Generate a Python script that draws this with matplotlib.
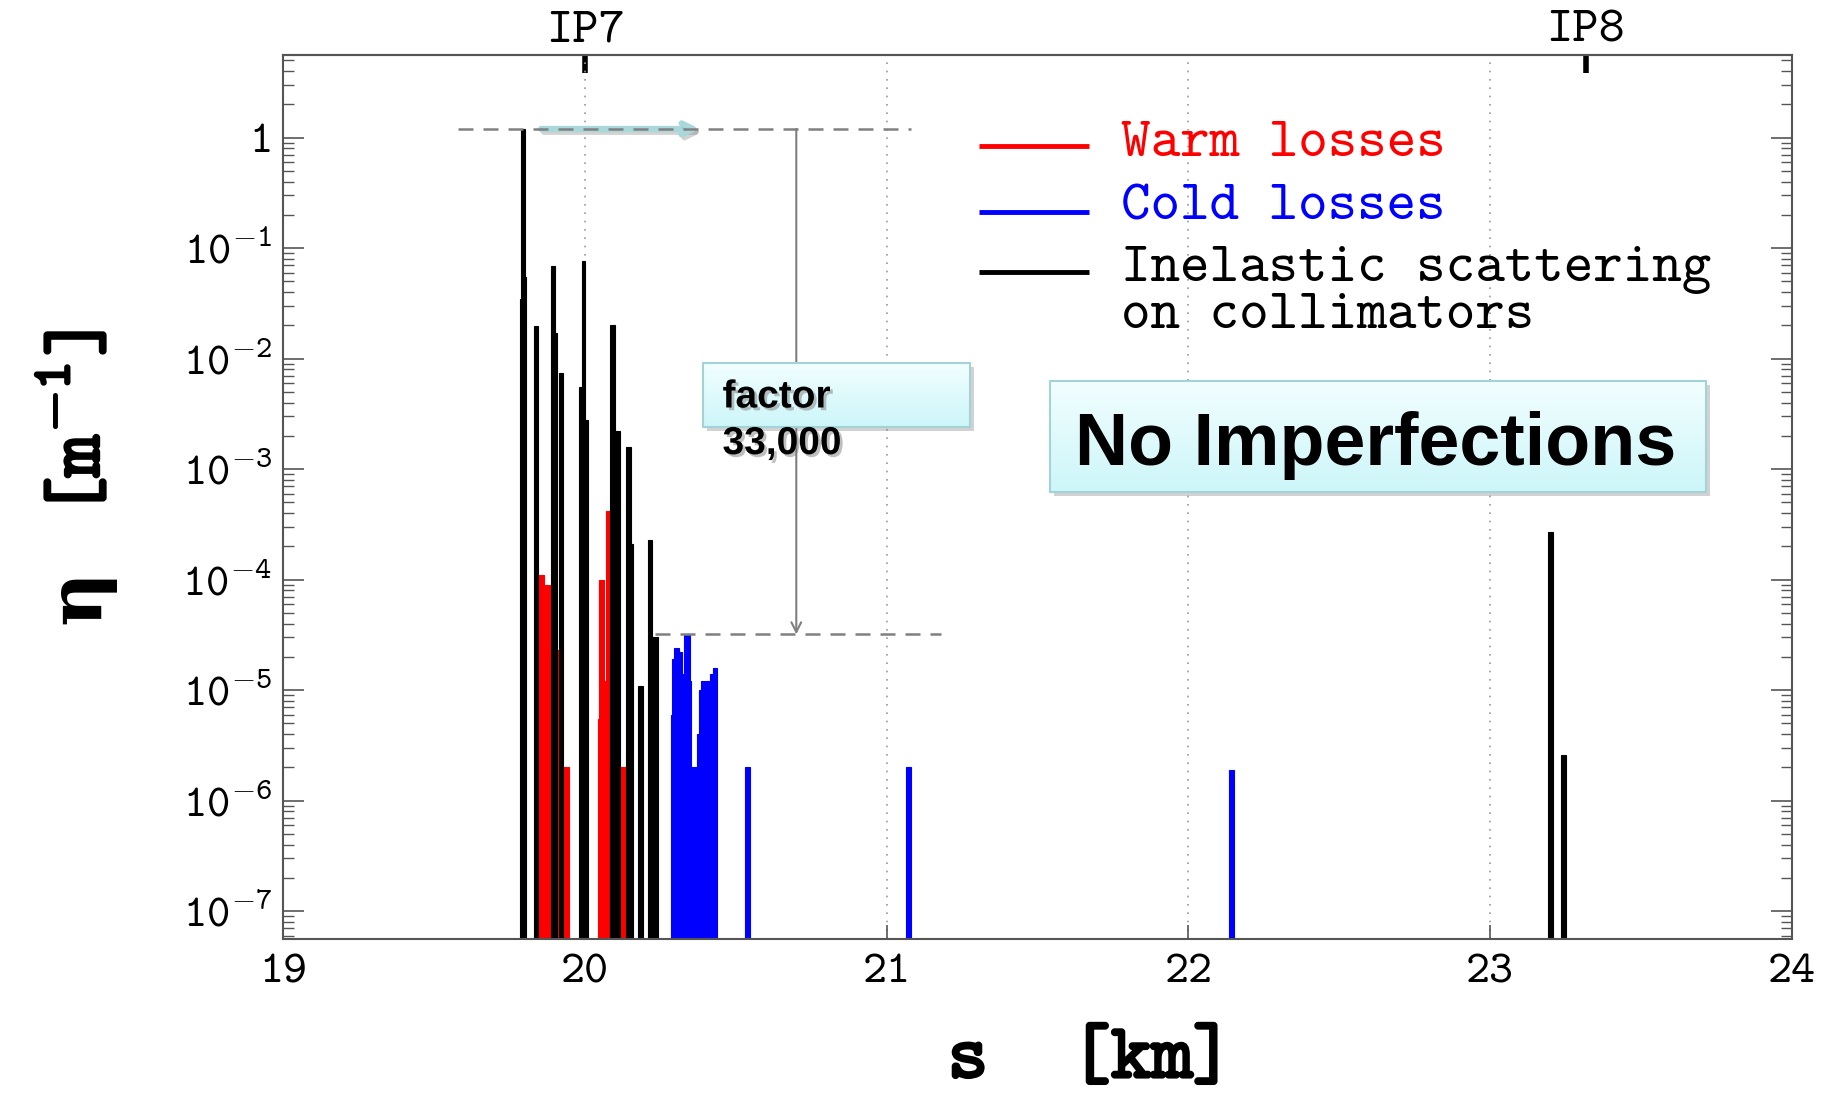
import numpy as np
import matplotlib
matplotlib.use('Agg')
import matplotlib.pyplot as plt
import matplotlib.patheffects as pe
from matplotlib.patches import Rectangle
from matplotlib.colors import LinearSegmentedColormap
from matplotlib.ticker import FixedLocator, FuncFormatter, LogLocator, NullFormatter
from matplotlib.transforms import offset_copy

MONO = 'cmtt10'
SANS = 'Liberation Sans'
plt.rcParams['font.family'] = [MONO, 'DejaVu Serif']
plt.rcParams['mathtext.fontset'] = 'custom'
plt.rcParams['mathtext.rm'] = MONO
plt.rcParams['mathtext.it'] = MONO
plt.rcParams['mathtext.bf'] = MONO

# loss map, each bin: left edge [km], right edge [km], eta [1/m]
warm_lo = [19.8475, 19.862, 19.8665, 19.904, 19.9205, 20.041, 20.047, 20.064, 20.070, 20.111]
warm_hi = [19.862, 19.8665, 19.884, 19.9205, 19.947, 20.047, 20.064, 20.070, 20.083, 20.147]
warm_eta = [1.1e-4, 3.5e-5, 9e-5, 2.3e-5, 2e-6, 5.5e-6, 1e-4, 1.2e-5, 4.2e-4, 2e-6]

cold_lo = [20.2852, 20.2896, 20.293, 20.3128, 20.3206, 20.3294, 20.346, 20.3515,
           20.3725, 20.3791, 20.3835, 20.4123, 20.4233, 20.529, 21.064, 22.136]
cold_hi = [20.2896, 20.293, 20.3128, 20.3206, 20.3294, 20.346, 20.3504, 20.3725,
           20.3791, 20.3835, 20.4123, 20.4233, 20.4388, 20.545, 21.080, 22.152]
cold_eta = [6e-6, 1.9e-5, 2.4e-5, 2.2e-5, 1.4e-5, 3.2e-5, 1.2e-5, 2e-6,
            4e-6, 1e-5, 1.2e-5, 1.4e-5, 1.6e-5, 2e-6, 2e-6, 1.9e-6]

coll_lo = [19.785, 19.789, 19.799, 19.829, 19.886, 19.9017, 19.913, 19.981, 19.988, 19.999,
           20.081, 20.084, 20.098, 20.137, 20.153, 20.176, 20.208, 20.223, 23.1925, 23.2355]
coll_hi = [19.789, 19.799, 19.804, 19.843, 19.9017, 19.906, 19.928, 19.988, 19.999, 20.008,
           20.084, 20.098, 20.116, 20.152, 20.160, 20.191, 20.223, 20.243, 23.2075, 23.2505]
coll_eta = [0.035, 1.2, 0.055, 0.0196, 0.069, 0.017, 0.0075, 0.0055, 0.076, 0.0028,
            2.8e-5, 0.02, 0.0022, 0.0016, 2.1e-4, 1.1e-5, 2.3e-4, 3.0e-5, 2.7e-4, 2.6e-6]

ip_s = [20.0, 23.317]
ip_names = ['IP7', 'IP8']
s_ticks = [19, 20, 21, 22, 23, 24]
eta_decades = [-7, -6, -5, -4, -3, -2, -1, 0]

S_MIN, S_MAX = 19, 24
ETA_MIN, ETA_MAX = 5.6e-8, 5.6
BASE = 1e-9

fig = plt.figure(figsize=(18.36, 11.03), dpi=100)
ax = fig.add_axes([0.1544, 0.1487, 0.8215, 0.8014])
ax.set_yscale('log')


def draw_bins(lo, hi, eta, color):
    lo = np.asarray(lo)
    hi = np.asarray(hi)
    ax.bar(lo, np.asarray(eta) - BASE, width=hi - lo, bottom=BASE, align='edge',
           color=color, edgecolor=color, linewidth=0.8, zorder=2)


draw_bins(warm_lo, warm_hi, warm_eta, 'red')
draw_bins(coll_lo, coll_hi, coll_eta, 'black')
draw_bins(cold_lo, cold_hi, cold_eta, 'blue')

# hierarchy annotation
top = max(coll_eta)
cold_peak = max(cold_eta)
ax.hlines(top, 19.58, 21.08, colors='#808080', linestyles=(0, (6, 4)), lw=1.8, zorder=3)
ax.hlines(cold_peak, 20.23, 21.18, colors='#808080', linestyles=(0, (6, 4)), lw=1.8, zorder=3)
ax.annotate('', xy=(20.70, cold_peak), xytext=(20.70, top),
            arrowprops=dict(arrowstyle='->,head_length=0.7,head_width=0.35', color='#7f7f7f',
                            lw=1.5, shrinkA=0, shrinkB=0), zorder=3)
arr = ax.annotate('', xy=(20.38, top), xytext=(19.854, top),
                  arrowprops=dict(arrowstyle='->,head_length=0.8,head_width=0.4', color='#a8d8da',
                                  lw=4.5, shrinkA=0, shrinkB=0), zorder=2.5)
arr.arrow_patch.set_path_effects([pe.SimpleLineShadow(offset=(2, -2), shadow_color='gray', alpha=0.35),
                                  pe.Normal()])

box_cmap = LinearSegmentedColormap.from_list('box', ['#f2feff', '#cdf6f9'])


def shaded_box(x0, y0, x1, y1):
    sh = offset_copy(ax.transAxes, fig=fig, x=4, y=-4, units='dots')
    ax.add_patch(Rectangle((x0, y0), x1 - x0, y1 - y0, transform=sh, facecolor='gray',
                           alpha=0.35, edgecolor='none', zorder=4))
    ax.imshow(np.linspace(0, 1, 64).reshape(-1, 1), extent=(x0, x1, y0, y1), transform=ax.transAxes,
              cmap=box_cmap, aspect='auto', zorder=4.1, interpolation='bilinear')
    ax.add_patch(Rectangle((x0, y0), x1 - x0, y1 - y0, transform=ax.transAxes, fill=False,
                           edgecolor='#a3d3d6', lw=1.5, zorder=4.2))


shaded_box(0.2779, 0.5787, 0.4549, 0.6516)
txt_shadow = [pe.withSimplePatchShadow(offset=(2, -2), shadow_rgbFace='gray', alpha=0.5)]
ax.text(0.2911, 0.6013, 'factor', transform=ax.transAxes, family=SANS, weight='bold', size=28,
        va='baseline', zorder=5, path_effects=txt_shadow)
ax.text(0.2911, 0.5486, '33,000', transform=ax.transAxes, family=SANS, weight='bold', size=28,
        va='baseline', zorder=5, path_effects=txt_shadow)

shaded_box(0.5083, 0.5059, 0.9432, 0.6317)
ax.text(0.5249, 0.5362, 'No Imperfections', transform=ax.transAxes, family=SANS, weight='bold',
        size=53, va='baseline', zorder=5)

# legend drawn by hand
leg_y = [0.8971, 0.8224, 0.7545]
leg_base = [0.886, 0.8135, 0.7445]
leg_txt = ['Warm losses', 'Cold losses', 'Inelastic scattering']
leg_col = ['red', 'blue', 'black']
for y, b, t, c in zip(leg_y, leg_base, leg_txt, leg_col):
    ax.plot([0.4612, 0.5341], [y, y], transform=ax.transAxes, color=c, lw=3.5,
            solid_capstyle='butt', zorder=5)
    ax.text(0.5551, b, t, transform=ax.transAxes, color=c, size=40.5, va='baseline', zorder=5)
ax.text(0.5551, 0.6915, 'on collimators', transform=ax.transAxes, color='black', size=40.5,
        va='baseline', zorder=5)

# axes
ax.set_xlim(S_MIN, S_MAX)
ax.set_ylim(ETA_MIN, ETA_MAX)
ax.set_xticks(s_ticks)
ax.yaxis.set_major_locator(FixedLocator(10.0 ** np.array(eta_decades)))
ax.yaxis.set_minor_locator(LogLocator(base=10, subs=np.arange(2, 10), numticks=30))
ax.yaxis.set_minor_formatter(NullFormatter())


def eta_fmt(v, pos):
    e = int(round(np.log10(v)))
    if e == 0:
        return '1'
    return r'$10^{-%d}$' % -e


ax.yaxis.set_major_formatter(FuncFormatter(eta_fmt))
ax.tick_params(axis='y', which='major', direction='in', left=True, right=True, length=15, width=1.2,
               color='#555555', labelsize=32, pad=8)
ax.tick_params(axis='y', which='minor', direction='in', left=True, right=True, length=8, width=1.0,
               color='#555555')
ax.tick_params(axis='x', which='both', direction='in', top=False, length=10, width=1.2,
               color='#555555', labelsize=33, pad=11)
ax.xaxis.set_minor_locator(FixedLocator([]))
ax.grid(True, axis='x', which='major', linestyle=(0, (1, 4)), color='#999999', lw=1.2, zorder=1)
for sp in ax.spines.values():
    sp.set_color('#555555')
    sp.set_linewidth(1.5)

sec = ax.secondary_xaxis('top')
sec.set_xticks(ip_s, ip_names)
sec.tick_params(direction='in', length=13, width=4, color='black', labelsize=36, pad=2)
sec.spines['top'].set_color('#555555')
sec.spines['top'].set_linewidth(1.5)

bold = [pe.withStroke(linewidth=2, foreground='black')]
fig.text(79 / 1836, 1 - 597 / 1103, 'η', rotation=90, family='DejaVu Serif', weight='bold',
         size=54, ha='center', va='center')
fig.text(79 / 1836, 1 - 424 / 1103, r'[m$^{-1}$]', rotation=90, size=56,
         ha='center', va='center', path_effects=bold)
fig.text(0.594, 0.037, 's  [km]', size=56, ha='center', va='center', path_effects=bold)

fig.savefig('out.png', dpi=100)
